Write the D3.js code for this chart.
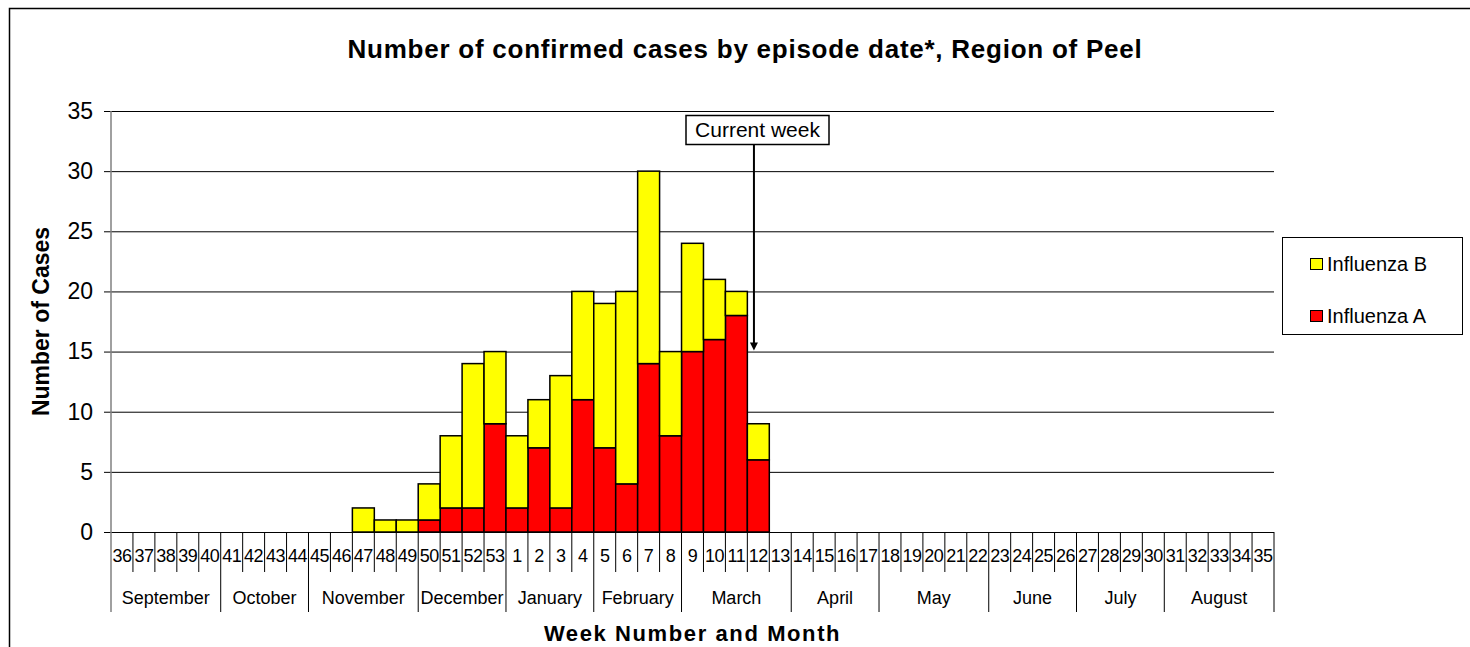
<!DOCTYPE html>
<html>
<head lang="en">
    <meta charset="utf-8">
    <script src="https://d3js.org/d3.v7.min.js"></script>
    <style>
        body { margin: 0; background: #fff; overflow: hidden; }
        svg { display: block; }
        text { font-family: 'Liberation Sans', Arial, sans-serif; }
    </style>
</head>
<body>
    <div id="chart"></div>

    <script>
        // week numbers of the season, Sept -> Aug
        const weeks = ['36','37','38','39','40','41','42','43','44','45','46','47','48','49','50','51','52','53',
                       '1','2','3','4','5','6','7','8','9','10','11','12','13','14','15','16','17','18','19','20',
                       '21','22','23','24','25','26','27','28','29','30','31','32','33','34','35'];
        const months = ['September','October','November','December','January','February','March',
                        'April','May','June','July','August'];
        const weeksPerMonth = [5, 4, 5, 4, 4, 4, 5, 4, 5, 4, 4, 5];

        // cases per week (weeks 47 to 12 have data)
        const fluA = [0,0,0,0,0,0,0,0,0,0,0, 0,0,0,1,2,2,9, 2,7,2,11,7,4,14,8,15,16,18,6,
                      0,0,0,0,0,0,0,0,0,0,0,0,0,0,0,0,0,0,0,0,0,0,0];
        const fluB = [0,0,0,0,0,0,0,0,0,0,0, 2,1,1,3,6,12,6, 6,4,11,9,12,16,16,7,9,5,2,3,
                      0,0,0,0,0,0,0,0,0,0,0,0,0,0,0,0,0,0,0,0,0,0,0];
        const yTicks = [0, 5, 10, 15, 20, 25, 30, 35];
        const currentWeek = '12';
        const currentWeekLevel = 15;

        const width = 1470;
        const height = 647;
        const margin = ({top: 111, right: 196, bottom: 115, left: 111});

        const svg = d3.create('svg')
            .attr('width', width)
            .attr('height', height);

        // chart frame (runs off the right/bottom edge like the original)
        svg.append('rect')
            .attr('x', 9.5).attr('y', 8.5)
            .attr('width', 1600).attr('height', 800)
            .attr('fill', 'none')
            .attr('stroke', 'black')
            .attr('stroke-width', 1.5);

        const xScale = d3.scaleBand()
            .domain(weeks)
            .range([margin.left, width - margin.right])
            .padding(0);

        const yScale = d3.scaleLinear()
            .domain([0, 35])
            .range([height - margin.bottom, margin.top]);

        const y0 = yScale(0);
        const xRight = width - margin.right;

        // gridlines + y axis
        const yAxis = svg.append('g')
            .attr('transform', `translate(${margin.left}, 0)`)
            .call(d3.axisLeft(yScale).tickValues(yTicks).tickSize(7).tickPadding(11));
        yAxis.select('.domain').remove();
        yAxis.selectAll('.tick line')
            .attr('x2', xRight - margin.left)
            .attr('x1', -7)
            .attr('stroke', 'black');
        yAxis.selectAll('.tick text')
            .attr('font-size', '23px')
            .attr('fill', 'black');

        // stacked bars
        const table = weeks.map((w, i) => ({week: w, A: fluA[i], B: fluB[i]}));
        const series = d3.stack().keys(['A', 'B'])(table);
        const colors = {A: '#ff0000', B: '#ffff00'};

        svg.append('g')
            .selectAll('g')
            .data(series)
            .join('g')
            .attr('fill', d => colors[d.key])
            .selectAll('rect')
            .data(d => d.filter(s => s[1] - s[0] > 0))
            .join('rect')
            .attr('x', d => xScale(d.data.week))
            .attr('y', d => yScale(d[1]))
            .attr('width', xScale.bandwidth())
            .attr('height', d => yScale(d[0]) - yScale(d[1]))
            .attr('stroke', 'black')
            .attr('stroke-width', 1.5);

        // y axis line (grey) running down through the category table
        svg.append('line')
            .attr('x1', margin.left).attr('x2', margin.left)
            .attr('y1', margin.top).attr('y2', y0 + 80)
            .attr('stroke', '#808080')
            .attr('stroke-width', 1.5);

        // week labels + separators
        const bottom = svg.append('g');
        bottom.selectAll('text.week')
            .data(weeks)
            .join('text')
            .attr('class', 'week')
            .attr('x', d => xScale(d) + xScale.bandwidth() / 2)
            .attr('y', y0 + 30)
            .attr('text-anchor', 'middle')
            .attr('font-size', '18px')
            .attr('letter-spacing', '-0.5px')
            .text(d => d);

        // month boundaries
        let idx = 0;
        const monthStarts = weeksPerMonth.map(n => { const s = idx; idx += n; return s; });
        const monthBounds = new Set(monthStarts.concat([weeks.length]));

        bottom.selectAll('line.sep')
            .data(d3.range(1, weeks.length + 1))
            .join('line')
            .attr('class', 'sep')
            .attr('x1', i => i < weeks.length ? xScale(weeks[i]) : xRight)
            .attr('x2', i => i < weeks.length ? xScale(weeks[i]) : xRight)
            .attr('y1', y0)
            .attr('y2', i => monthBounds.has(i) ? y0 + 80 : y0 + 40)
            .attr('stroke', 'black')
            .attr('stroke-width', 1);

        bottom.selectAll('text.month')
            .data(months)
            .join('text')
            .attr('class', 'month')
            .attr('x', (d, i) => {
                const a = xScale(weeks[monthStarts[i]]);
                const b = a + weeksPerMonth[i] * xScale.bandwidth();
                return (a + b) / 2;
            })
            .attr('y', y0 + 72)
            .attr('text-anchor', 'middle')
            .attr('font-size', '18px')
            .text(d => d);

        // titles
        svg.append('text')
            .attr('x', 745)
            .attr('y', 58)
            .attr('text-anchor', 'middle')
            .attr('font-size', '26px')
            .attr('font-weight', 'bold')
            .attr('letter-spacing', '0.75px')
            .text('Number of confirmed cases by episode date*, Region of Peel');

        svg.append('text')
            .attr('x', (margin.left + xRight) / 2)
            .attr('y', 641)
            .attr('text-anchor', 'middle')
            .attr('font-size', '22px')
            .attr('font-weight', 'bold')
            .attr('letter-spacing', '1.6px')
            .text('Week Number and Month');

        svg.append('text')
            .attr('transform', `translate(49, ${(margin.top + y0) / 2}) rotate(-90)`)
            .attr('text-anchor', 'middle')
            .attr('font-size', '23px')
            .attr('font-weight', 'bold')
            .text('Number of Cases');

        // current week annotation
        const ax = xScale(currentWeek) + xScale.bandwidth() * 0.3;
        svg.append('line')
            .attr('x1', ax).attr('x2', ax)
            .attr('y1', 144).attr('y2', yScale(currentWeekLevel) - 8)
            .attr('stroke', 'black')
            .attr('stroke-width', 2);
        svg.append('path')
            .attr('d', `M${ax - 4},${yScale(currentWeekLevel) - 9} L${ax + 4},${yScale(currentWeekLevel) - 9} L${ax},${yScale(currentWeekLevel) - 1} Z`)
            .attr('fill', 'black');
        svg.append('rect')
            .attr('x', 686).attr('y', 115.5)
            .attr('width', 143).attr('height', 29)
            .attr('fill', 'white')
            .attr('stroke', 'black')
            .attr('stroke-width', 1.5);
        svg.append('text')
            .attr('x', 686 + 143 / 2)
            .attr('y', 137)
            .attr('text-anchor', 'middle')
            .attr('font-size', '21px')
            .text('Current week');

        // legend
        const legend = svg.append('g');
        legend.append('rect')
            .attr('x', 1282.5).attr('y', 237.5)
            .attr('width', 180).attr('height', 97)
            .attr('fill', 'white')
            .attr('stroke', 'black')
            .attr('stroke-width', 1);
        const legendItems = [{key: 'B', label: 'Influenza B'}, {key: 'A', label: 'Influenza A'}];
        legendItems.forEach((d, i) => {
            const cy = 264 + i * 52;
            legend.append('rect')
                .attr('x', 1310.5).attr('y', cy - 5.5)
                .attr('width', 12).attr('height', 11)
                .attr('fill', colors[d.key])
                .attr('stroke', 'black')
                .attr('stroke-width', 1);
            legend.append('text')
                .attr('x', 1327)
                .attr('y', cy + 7)
                .attr('font-size', '20px')
                .text(d.label);
        });

        document.getElementById('chart').appendChild(svg.node());
    </script>
</body>
</html>
